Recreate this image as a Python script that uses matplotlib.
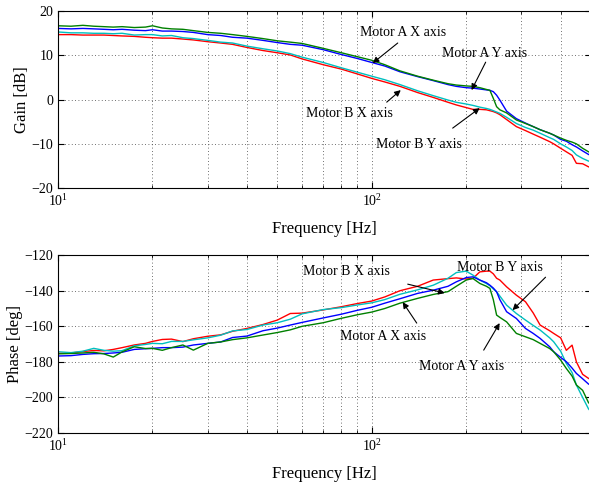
import matplotlib
matplotlib.use("Agg")
import matplotlib.pyplot as plt
from matplotlib.ticker import NullFormatter

plt.rcParams['font.family'] = ['Liberation Serif', 'DejaVu Serif']
plt.rcParams['mathtext.fontset'] = 'stix'
plt.rcParams['axes.unicode_minus'] = True

# ---------------- data ----------------
freq = [10, 11, 12, 13, 14, 15, 16, 17.5, 19, 20, 21.5, 23, 25, 27, 30, 33, 36, 40,
        45, 50, 55, 60, 70, 80, 90, 100, 110, 123, 140, 157, 175, 186, 200, 210,
        221, 232, 238, 244, 250, 256, 269, 289, 309, 327, 344, 369, 380, 400, 417,
        435, 449, 470, 491, 500]

gain_a_y = [16.7, 16.6, 16.8, 16.6, 16.5, 16.4, 16.5, 16.3, 16.4, 16.7, 16.2, 16.0, 15.9,
            15.6, 15.2, 15.0, 14.7, 14.3, 13.8, 13.3, 13.0, 12.7, 11.6, 10.6, 9.7, 8.9,
            7.9, 6.5, 5.3, 4.4, 3.6, 3.3, 3.1, 3.0, 2.7, 2.3, 2.1, 0.3, -1.6, -2.3, -3.0,
            -4.6, -5.4, -6.1, -6.8, -7.6, -8.0, -8.7, -9.2, -9.6, -10.0, -11.0, -11.8, -12.0]
gain_a_x = [16.1, 16.0, 16.1, 16.0, 15.9, 15.8, 15.9, 15.7, 15.6, 15.8, 15.5, 15.5, 15.4,
            15.2, 14.7, 14.5, 14.1, 13.9, 13.4, 12.9, 12.5, 12.3, 11.3, 10.2, 9.3, 8.4,
            7.6, 6.3, 5.2, 4.3, 3.4, 3.0, 2.7, 2.6, 2.4, 2.2, 2.1, 1.8, 1.0, -0.1, -2.6,
            -4.3, -5.3, -6.1, -6.8, -7.6, -8.0, -9.0, -9.4, -10.2, -10.7, -11.6, -12.4, -12.6]
gain_b_y = [15.3, 15.1, 15.1, 15.0, 15.0, 14.9, 15.0, 14.6, 14.7, 14.7, 14.4, 14.5, 14.0,
            13.8, 13.4, 13.0, 12.8, 12.1, 11.5, 11.0, 10.4, 9.6, 8.4, 7.2, 6.2, 5.3,
            4.5, 3.4, 2.0, 0.9, -0.1, -0.6, -1.0, -1.3, -1.7, -2.0, -2.2, -2.5, -2.8, -3.1,
            -4.0, -5.4, -6.3, -6.9, -7.6, -8.6, -9.0, -10.0, -10.7, -11.5, -12.5, -13.3,
            -13.9, -14.0]
gain_b_x = [14.7, 14.7, 14.6, 14.6, 14.6, 14.5, 14.4, 14.3, 14.1, 14.0, 13.9, 13.9, 13.7,
            13.5, 13.1, 12.8, 12.5, 11.8, 11.1, 10.6, 10.1, 9.2, 7.9, 6.9, 5.8, 4.8,
            4.0, 3.0, 1.6, 0.5, -0.6, -1.2, -1.8, -2.2, -2.2, -2.3, -2.5, -2.7, -3.0, -3.4,
            -4.5, -6.1, -7.0, -7.8, -8.5, -9.5, -10.0, -11.0, -11.8, -12.6, -14.4, -14.5,
            -15.2, -15.3]

phase_b_x = [-175.2, -175.0, -174.2, -173.6, -173.8, -173.0, -172.0, -170.5, -169.6, -168.5,
             -167.4, -167.2, -168.6, -167.0, -165.6, -164.8, -162.8, -161.2, -159.0, -156.5,
             -152.8, -152.6, -150.8, -149.0, -147.2, -145.8, -143.5, -140.0, -137.5, -134.0,
             -133.2, -132.8, -133.4, -133.1, -129.4, -129.0, -129.0, -130.5, -133.0, -134.0,
             -137.8, -142.5, -146.2, -152.5, -159.3, -162.5, -164.0, -166.5, -173.5, -170.6,
             -180.0, -187.0, -189.3, -190.0]
phase_b_y = [-174.3, -174.8, -174.0, -172.4, -173.5, -174.0, -173.7, -171.0, -170.2, -169.6,
             -169.8, -168.5, -168.5, -167.6, -166.5, -165.0, -162.6, -161.8, -159.3, -158.0,
             -156.0, -153.0, -150.6, -149.5, -148.0, -146.8, -145.0, -142.0, -139.5, -136.9,
             -133.0, -129.8, -129.0, -131.2, -134.0, -136.0, -137.2, -139.0, -140.6, -143.0,
             -148.1, -152.8, -156.5, -159.5, -162.1, -166.5, -168.7, -174.0, -180.9, -186.0,
             -193.0, -200.0, -206.5, -208.0]
phase_a_x = [-176.7, -176.5, -175.8, -175.4, -175.3, -175.0, -174.6, -173.0, -172.6, -172.4,
             -172.0, -172.0, -171.7, -170.5, -169.6, -168.8, -166.3, -165.5, -162.5, -161.0,
             -159.3, -157.8, -155.3, -153.2, -151.0, -149.3, -147.0, -144.5, -141.5, -139.7,
             -137.5, -135.0, -132.6, -132.2, -134.0, -135.5, -136.9, -138.5, -140.6, -145.0,
             -151.8, -155.6, -161.2, -164.0, -166.8, -171.5, -174.3, -177.5, -179.9, -183.5,
             -186.5, -189.5, -192.5, -193.0]
phase_a_y = [-175.5, -175.3, -175.0, -174.6, -175.5, -177.3, -174.4, -171.5, -172.5, -172.4,
             -173.5, -172.0, -170.5, -173.4, -169.6, -168.8, -167.5, -166.5, -164.9, -163.5,
             -162.0, -160.0, -158.0, -155.5, -153.5, -152.0, -150.0, -147.0, -144.3, -142.1,
             -140.5, -137.5, -134.0, -133.1, -135.9, -137.5, -138.7, -145.0, -153.7, -155.0,
             -157.5, -164.0, -165.9, -167.5, -169.6, -172.5, -174.3, -179.0, -183.7, -188.0,
             -193.0, -196.0, -203.0, -204.0]

series_colors = {'b_x': 'r', 'a_y': (0, 0.5, 0), 'a_x': 'b', 'b_y': (0, 0.75, 0.75)}

gain_notes = [  # text, text pos, arrow tail, arrow head
    ('Motor A X axis', (125.5, 15.25), (121, 12.8), (100.7, 8.25)),
    ('Motor A Y axis', (229, 10.5), (230.7, 8.47), (208, 2.15)),
    ('Motor B X axis', (85.1, -3.05), (111.6, -0.57), (123.7, 2.15)),
    ('Motor B Y axis', (141.1, -10.06), (181.1, -6.44), (220.8, -1.92)),
]
phase_notes = [
    ('Motor B X axis', (83.3, -129.0), (130.2, -136.3), (170.8, -141.3)),
    ('Motor A X axis', (108.4, -165.5), (139.1, -158.2), (125.5, -146.4)),
    ('Motor B Y axis', (255.6, -126.7), (358, -132.4), (281, -150.9)),
    ('Motor A Y axis', (193.5, -182.4), (227.4, -173.4), (255.6, -158.2)),
]

# ---------------- figure ----------------
fig = plt.figure(figsize=(5.89, 4.86), dpi=100)
ax1 = fig.add_axes([0.0985, 0.613, 0.905, 0.364])
ax2 = fig.add_axes([0.0985, 0.109, 0.905, 0.366])

def style(ax, ylim, yticks, ylabel):
    ax.set_xscale('log')
    ax.set_xlim(10, 500)
    ax.set_ylim(*ylim)
    ax.set_yticks(yticks)
    ax.xaxis.set_minor_formatter(NullFormatter())
    ax.tick_params(which='both', direction='in', top=True, right=True, labelsize=10)
    ax.tick_params(which='major', length=4)
    ax.tick_params(which='minor', length=2)
    ax.grid(which='major', linestyle=(0, (1, 3)), color='0.25', linewidth=0.6)
    ax.grid(which='minor', axis='x', linestyle=(0, (1, 3)), color='0.25', linewidth=0.6)
    ax.set_xlabel('Frequency [Hz]', fontsize=12, labelpad=9)
    ax.set_ylabel(ylabel, fontsize=12, labelpad=1)
    for s in ax.spines.values():
        s.set_linewidth(0.8)

lw = 1.0
ax1.plot(freq, gain_b_x, color=series_colors['b_x'], lw=lw)
ax1.plot(freq, gain_b_y, color=series_colors['b_y'], lw=lw)
ax1.plot(freq, gain_a_x, color=series_colors['a_x'], lw=lw)
ax1.plot(freq, gain_a_y, color=series_colors['a_y'], lw=lw)
style(ax1, (-20, 20), [-20, -10, 0, 10, 20], 'Gain [dB]')

ax2.plot(freq, phase_b_x, color=series_colors['b_x'], lw=lw)
ax2.plot(freq, phase_b_y, color=series_colors['b_y'], lw=lw)
ax2.plot(freq, phase_a_x, color=series_colors['a_x'], lw=lw)
ax2.plot(freq, phase_a_y, color=series_colors['a_y'], lw=lw)
style(ax2, (-220, -120), [-220, -200, -180, -160, -140, -120], 'Phase [deg]')

for ax, notes in ((ax1, gain_notes), (ax2, phase_notes)):
    for txt, tpos, tail, head in notes:
        ax.text(tpos[0], tpos[1], txt, ha='center', va='center', fontsize=10)
        ax.annotate('', xy=head, xytext=tail,
                    arrowprops=dict(arrowstyle='-|>', color='k', lw=0.8,
                                    mutation_scale=9, shrinkA=0, shrinkB=0))

fig.savefig('out.png', dpi=100)
